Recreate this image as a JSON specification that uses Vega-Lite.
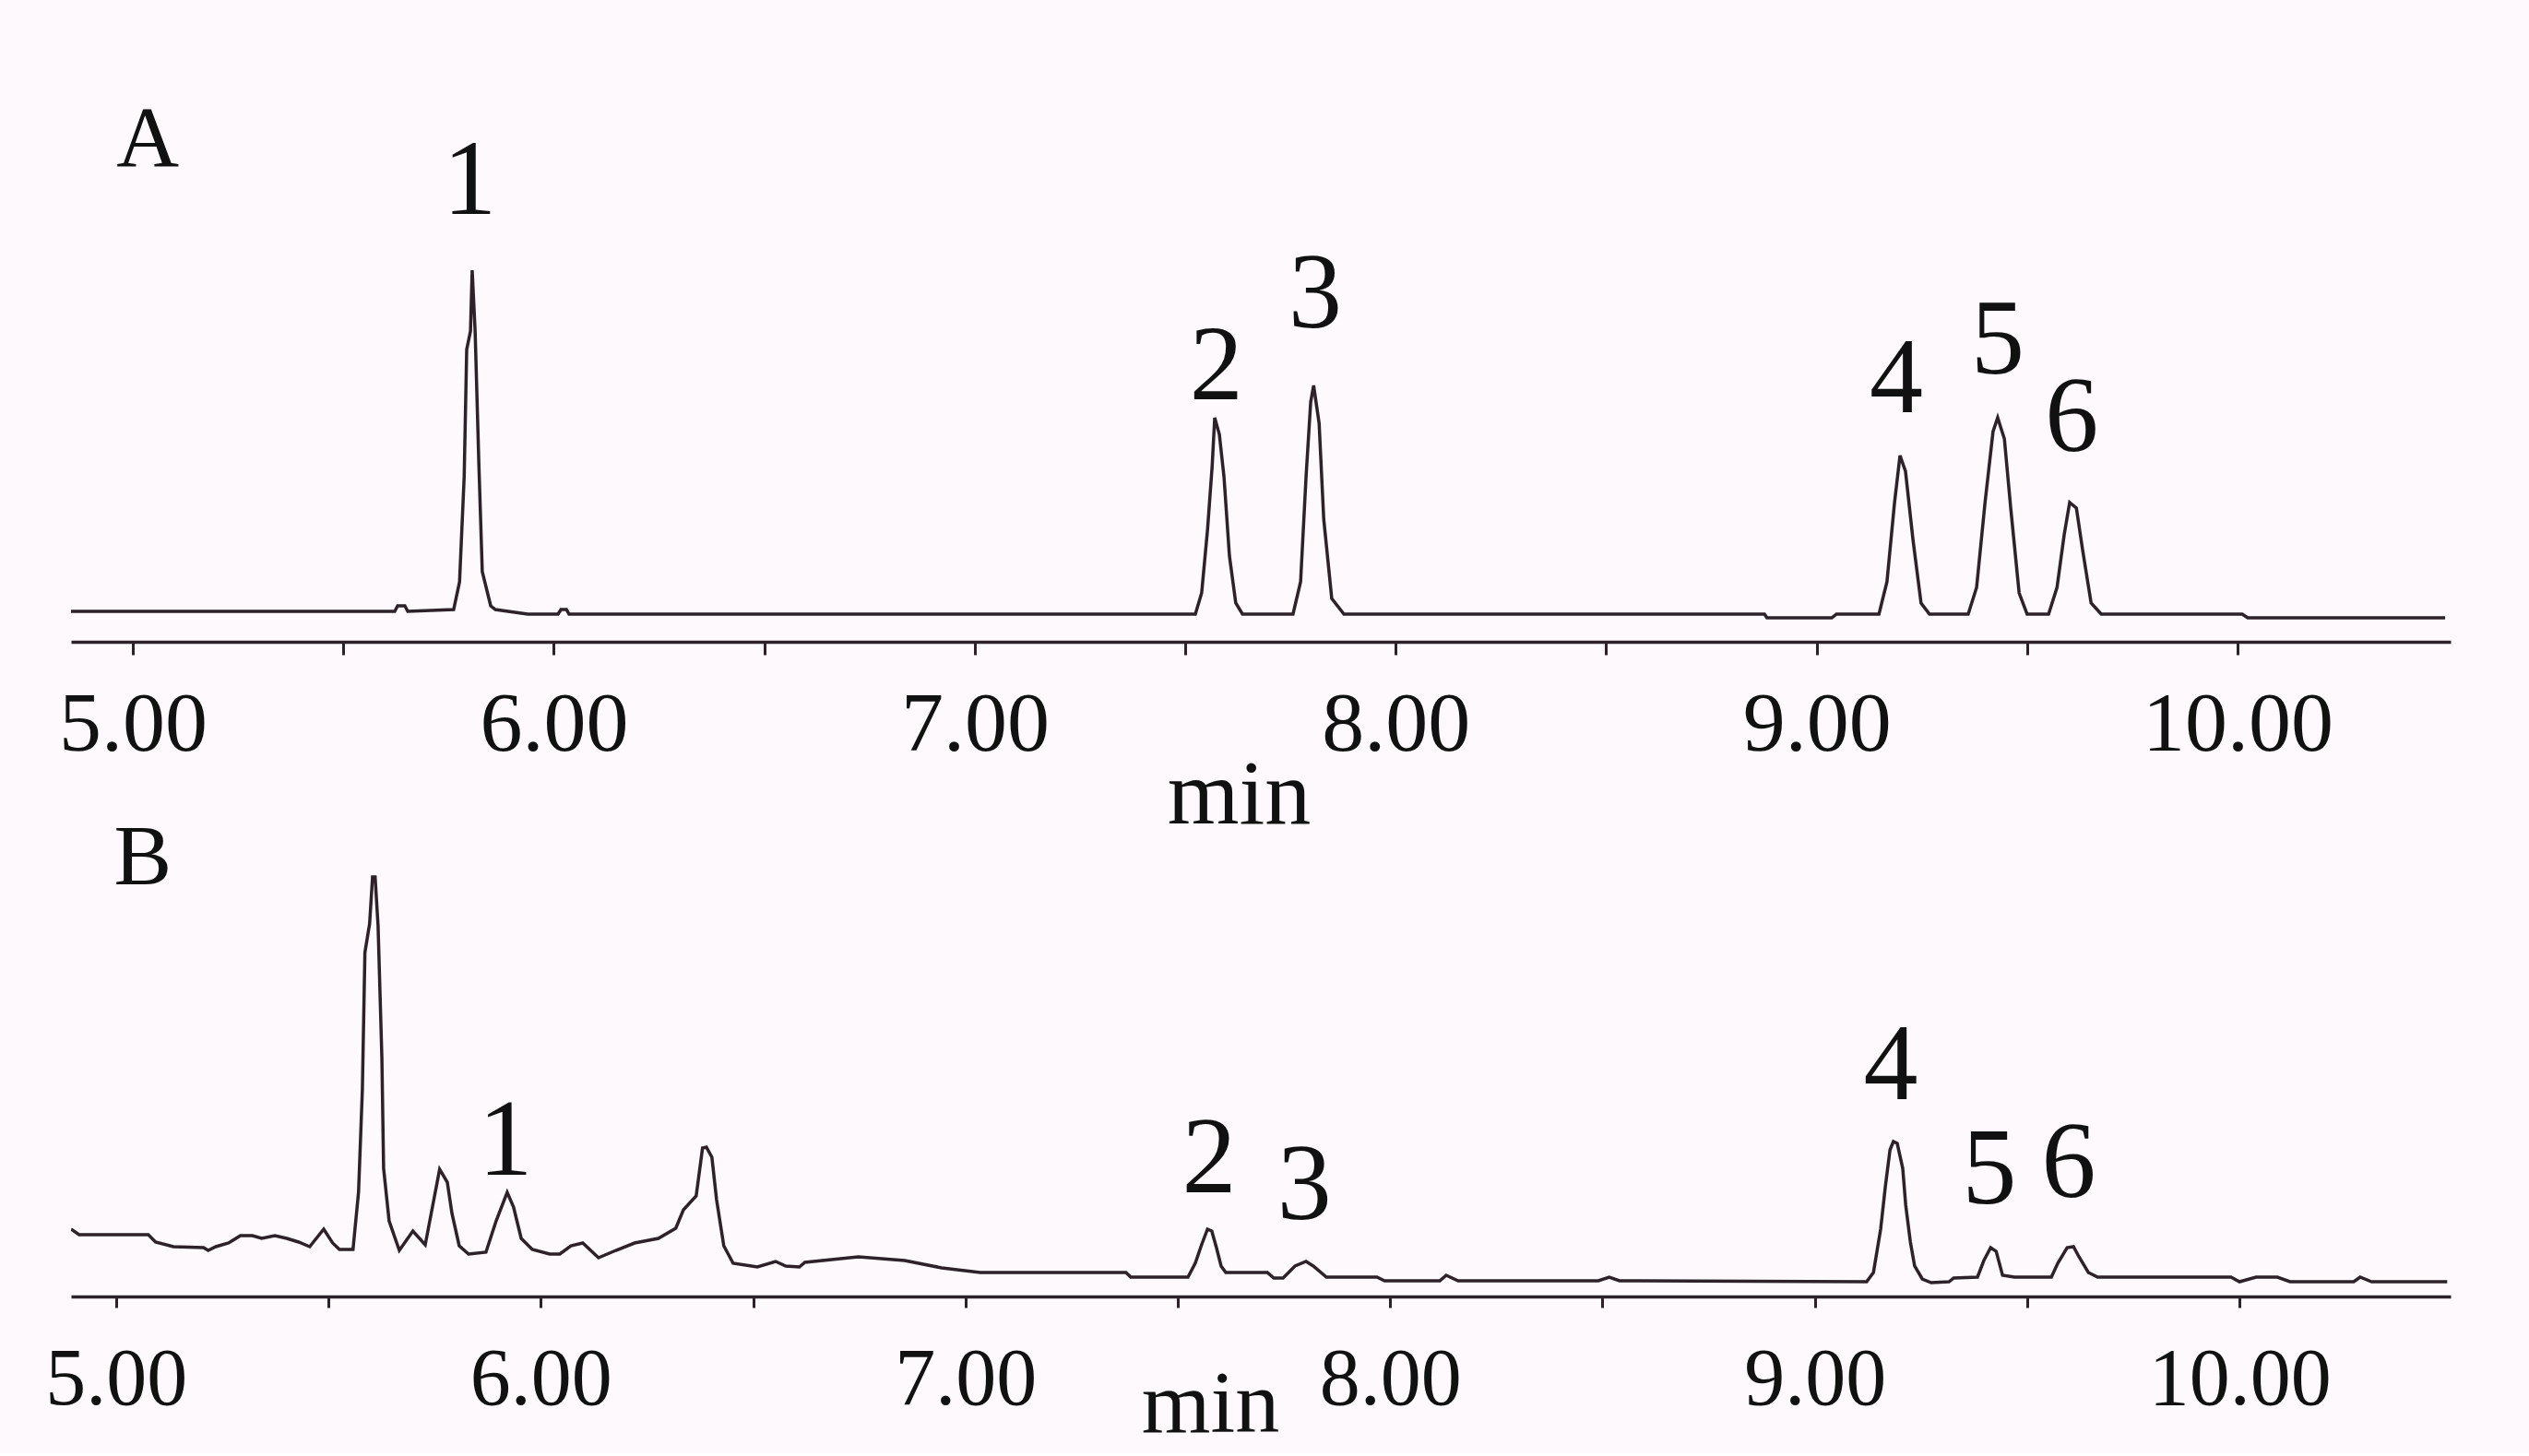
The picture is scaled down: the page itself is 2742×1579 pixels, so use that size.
{
  "$schema": "https://vega.github.io/schema/vega-lite/v6.json",
  "background": "#fdf9fc",
  "padding": {"left": 48, "top": 60, "right": 86, "bottom": 5},
  "bounds": "flush",
  "spacing": 164,
  "config": {"view": {"stroke": null}},
  "datasets": {
    "traceA": [
      {"t": 4.853, "v": 8.25}, {"t": 5.622, "v": 8.25}, {"t": 5.629, "v": 9.75}, {"t": 5.646, "v": 9.75}, {"t": 5.653, "v": 8.25},
      {"t": 5.762, "v": 8.75}, {"t": 5.776, "v": 16.25}, {"t": 5.787, "v": 44.75}, {"t": 5.793, "v": 79.25}, {"t": 5.802, "v": 84.25},
      {"t": 5.806, "v": 100.75}, {"t": 5.813, "v": 84.25}, {"t": 5.822, "v": 47.75}, {"t": 5.830, "v": 19}, {"t": 5.850, "v": 9.75},
      {"t": 5.861, "v": 8.75}, {"t": 5.938, "v": 7.5}, {"t": 6.010, "v": 7.5}, {"t": 6.017, "v": 8.75}, {"t": 6.030, "v": 8.75},
      {"t": 6.036, "v": 7.5}, {"t": 7.524, "v": 7.5}, {"t": 7.539, "v": 13.25}, {"t": 7.553, "v": 30.5}, {"t": 7.564, "v": 47.75},
      {"t": 7.570, "v": 60.75}, {"t": 7.581, "v": 56.25}, {"t": 7.592, "v": 44.75}, {"t": 7.605, "v": 23.25}, {"t": 7.620, "v": 10.5},
      {"t": 7.636, "v": 7.5}, {"t": 7.756, "v": 7.5}, {"t": 7.774, "v": 16.25}, {"t": 7.787, "v": 44.75}, {"t": 7.798, "v": 65},
      {"t": 7.805, "v": 69.5}, {"t": 7.818, "v": 59.25}, {"t": 7.829, "v": 33.25}, {"t": 7.848, "v": 11.75}, {"t": 7.877, "v": 7.5},
      {"t": 8.876, "v": 7.5}, {"t": 8.882, "v": 6.5}, {"t": 9.036, "v": 6.5}, {"t": 9.047, "v": 7.5}, {"t": 9.148, "v": 7.5},
      {"t": 9.167, "v": 16.25}, {"t": 9.185, "v": 37.75}, {"t": 9.198, "v": 50.5}, {"t": 9.211, "v": 46.25}, {"t": 9.229, "v": 27.5},
      {"t": 9.248, "v": 10.5}, {"t": 9.268, "v": 7.5}, {"t": 9.360, "v": 7.5}, {"t": 9.380, "v": 14.75}, {"t": 9.400, "v": 37.75},
      {"t": 9.419, "v": 57}, {"t": 9.430, "v": 60.75}, {"t": 9.446, "v": 55}, {"t": 9.461, "v": 36.25}, {"t": 9.481, "v": 13.25},
      {"t": 9.500, "v": 7.5}, {"t": 9.551, "v": 7.5}, {"t": 9.571, "v": 14.75}, {"t": 9.588, "v": 29}, {"t": 9.601, "v": 37.75},
      {"t": 9.617, "v": 36.25}, {"t": 9.632, "v": 24.75}, {"t": 9.652, "v": 10.5}, {"t": 9.676, "v": 7.5}, {"t": 10.011, "v": 7.5},
      {"t": 10.024, "v": 6.5}, {"t": 10.493, "v": 6.5}
    ],
    "traceB": [
      {"t": 4.894, "v": 18.25}, {"t": 4.913, "v": 16.75}, {"t": 5.076, "v": 16.75}, {"t": 5.093, "v": 14.75}, {"t": 5.135, "v": 13.5},
      {"t": 5.206, "v": 13.25}, {"t": 5.217, "v": 12.5}, {"t": 5.235, "v": 13.5}, {"t": 5.265, "v": 14.5}, {"t": 5.293, "v": 16.5},
      {"t": 5.321, "v": 16.5}, {"t": 5.343, "v": 15.75}, {"t": 5.374, "v": 16.5}, {"t": 5.402, "v": 15.75}, {"t": 5.430, "v": 14.75},
      {"t": 5.456, "v": 13.5}, {"t": 5.489, "v": 18.25}, {"t": 5.510, "v": 14.5}, {"t": 5.526, "v": 12.75}, {"t": 5.558, "v": 12.75},
      {"t": 5.571, "v": 28.25}, {"t": 5.580, "v": 56}, {"t": 5.586, "v": 93.25}, {"t": 5.597, "v": 101}, {"t": 5.604, "v": 113.75},
      {"t": 5.610, "v": 113.75}, {"t": 5.617, "v": 100.5}, {"t": 5.626, "v": 64.5}, {"t": 5.630, "v": 34.75}, {"t": 5.643, "v": 20.5},
      {"t": 5.667, "v": 12.5}, {"t": 5.699, "v": 17.75}, {"t": 5.728, "v": 14}, {"t": 5.745, "v": 24.25}, {"t": 5.762, "v": 34.5},
      {"t": 5.780, "v": 31}, {"t": 5.791, "v": 22.5}, {"t": 5.808, "v": 13.75}, {"t": 5.830, "v": 11.5}, {"t": 5.871, "v": 12},
      {"t": 5.895, "v": 20.5}, {"t": 5.921, "v": 28.25}, {"t": 5.936, "v": 24.25}, {"t": 5.954, "v": 15.75}, {"t": 5.980, "v": 12.75},
      {"t": 6.021, "v": 11.5}, {"t": 6.045, "v": 11.5}, {"t": 6.071, "v": 13.75}, {"t": 6.099, "v": 14.5}, {"t": 6.136, "v": 10.5},
      {"t": 6.177, "v": 12.5}, {"t": 6.221, "v": 14.5}, {"t": 6.277, "v": 15.75}, {"t": 6.318, "v": 18.5}, {"t": 6.336, "v": 23.5},
      {"t": 6.366, "v": 27.25}, {"t": 6.381, "v": 40.25}, {"t": 6.390, "v": 40.5}, {"t": 6.403, "v": 37.75}, {"t": 6.414, "v": 26.25},
      {"t": 6.431, "v": 13.75}, {"t": 6.453, "v": 9}, {"t": 6.510, "v": 8}, {"t": 6.553, "v": 9.5}, {"t": 6.577, "v": 8.25},
      {"t": 6.609, "v": 8}, {"t": 6.622, "v": 9.25}, {"t": 6.748, "v": 10.75}, {"t": 6.857, "v": 9.75}, {"t": 6.944, "v": 7.75},
      {"t": 7.035, "v": 6.5}, {"t": 7.378, "v": 6.5}, {"t": 7.389, "v": 5.25}, {"t": 7.524, "v": 5.25}, {"t": 7.541, "v": 9},
      {"t": 7.556, "v": 14}, {"t": 7.570, "v": 18.25}, {"t": 7.580, "v": 17.75}, {"t": 7.591, "v": 13.25}, {"t": 7.602, "v": 8.25},
      {"t": 7.613, "v": 6.5}, {"t": 7.711, "v": 6.5}, {"t": 7.726, "v": 5}, {"t": 7.748, "v": 5}, {"t": 7.776, "v": 8.25},
      {"t": 7.802, "v": 9.5}, {"t": 7.819, "v": 8.25}, {"t": 7.850, "v": 5.25}, {"t": 7.969, "v": 5.25}, {"t": 7.987, "v": 4.25},
      {"t": 8.117, "v": 4.25}, {"t": 8.132, "v": 5.75}, {"t": 8.160, "v": 4.25}, {"t": 8.490, "v": 4.25}, {"t": 8.516, "v": 5.25},
      {"t": 8.540, "v": 4.25}, {"t": 9.122, "v": 4}, {"t": 9.138, "v": 6.5}, {"t": 9.155, "v": 18.25}, {"t": 9.166, "v": 29.75},
      {"t": 9.177, "v": 39.75}, {"t": 9.185, "v": 42}, {"t": 9.194, "v": 41.5}, {"t": 9.207, "v": 34.75}, {"t": 9.214, "v": 24.75},
      {"t": 9.225, "v": 14.75}, {"t": 9.235, "v": 8.25}, {"t": 9.253, "v": 4.75}, {"t": 9.274, "v": 3.75}, {"t": 9.316, "v": 4},
      {"t": 9.327, "v": 5}, {"t": 9.383, "v": 5.25}, {"t": 9.398, "v": 9.75}, {"t": 9.414, "v": 13.25}, {"t": 9.427, "v": 12.25},
      {"t": 9.442, "v": 5.75}, {"t": 9.470, "v": 5.25}, {"t": 9.557, "v": 5.25}, {"t": 9.572, "v": 9}, {"t": 9.594, "v": 13.25},
      {"t": 9.609, "v": 13.5}, {"t": 9.622, "v": 10.75}, {"t": 9.644, "v": 6.5}, {"t": 9.666, "v": 5.25}, {"t": 9.980, "v": 5.25},
      {"t": 10.000, "v": 4}, {"t": 10.039, "v": 5.25}, {"t": 10.089, "v": 5.25}, {"t": 10.119, "v": 4}, {"t": 10.269, "v": 4},
      {"t": 10.284, "v": 5.25}, {"t": 10.311, "v": 4}, {"t": 10.489, "v": 4}
    ],
    "labelsA": [
      {"t": 5.035, "v": 136, "label": "A", "kind": "panel"},
      {"t": 5.800, "v": 124.75, "label": "1", "kind": "peak"},
      {"t": 7.574, "v": 74.5, "label": "2", "kind": "peak"},
      {"t": 7.809, "v": 94, "label": "3", "kind": "peak"},
      {"t": 9.189, "v": 71, "label": "4", "kind": "peak"},
      {"t": 9.430, "v": 81.5, "label": "5", "kind": "peak"},
      {"t": 9.606, "v": 60.5, "label": "6", "kind": "peak"}
    ],
    "labelsB": [
      {"t": 5.063, "v": 118.75, "label": "B", "kind": "panel"},
      {"t": 5.917, "v": 41.75, "label": "1", "kind": "peak"},
      {"t": 7.574, "v": 37, "label": "2", "kind": "peak"},
      {"t": 7.798, "v": 29.75, "label": "3", "kind": "peak"},
      {"t": 9.179, "v": 62.25, "label": "4", "kind": "peak"},
      {"t": 9.411, "v": 34, "label": "5", "kind": "peak"},
      {"t": 9.598, "v": 35.75, "label": "6", "kind": "peak"}
    ]
  },
  "vconcat": [
    {
      "width": 2580,
      "height": 636,
      "encoding": {
        "x": {
          "field": "t", "type": "quantitative",
          "scale": {"domain": [4.853, 10.506], "nice": false, "zero": false},
          "axis": {
            "title": "min",
            "values": [5, 5.5, 6, 6.5, 7, 7.5, 8, 8.5, 9, 9.5, 10],
            "labelExpr": "datum.value % 1 === 0 ? format(datum.value, '.2f') : ''",
            "grid": false, "labelFlush": false, "labelOverlap": false, "labelLimit": 0,
            "domainColor": "#2d2229", "domainWidth": 3.5,
            "tickColor": "#2d2229", "tickWidth": 3, "tickSize": 14,
            "labelFont": "Liberation Serif", "labelFontSize": 92, "labelColor": "#111111", "labelPadding": 30,
            "titleFont": "Liberation Serif", "titleFontSize": 100, "titleFontWeight": "normal", "titleColor": "#111111",
            "titleX": 1266, "titleY": 196, "titleBaseline": "alphabetic", "titleAlign": "center"
          }
        },
        "y": {
          "field": "v", "type": "quantitative",
          "scale": {"domain": [0, 159], "nice": false, "zero": false},
          "axis": null
        }
      },
      "layer": [
        {
          "data": {"name": "traceA"},
          "mark": {"type": "line", "color": "#2d2229", "strokeWidth": 3.5, "clip": true}
        },
        {
          "data": {"name": "labelsA"},
          "transform": [{"filter": "datum.kind === 'peak'"}],
          "mark": {"type": "text", "font": "Liberation Serif", "fontSize": 116, "color": "#111111", "align": "center", "baseline": "middle"},
          "encoding": {"text": {"field": "label", "type": "nominal"}}
        },
        {
          "data": {"name": "labelsA"},
          "transform": [{"filter": "datum.kind === 'panel'"}],
          "mark": {"type": "text", "font": "Liberation Serif", "fontSize": 94, "color": "#111111", "align": "center", "baseline": "middle"},
          "encoding": {"text": {"field": "label", "type": "nominal"}}
        }
      ]
    },
    {
      "width": 2580,
      "height": 546,
      "encoding": {
        "x": {
          "field": "t", "type": "quantitative",
          "scale": {"domain": [4.894, 10.497], "nice": false, "zero": false},
          "axis": {
            "title": "min",
            "values": [5, 5.5, 6, 6.5, 7, 7.5, 8, 8.5, 9, 9.5, 10],
            "labelExpr": "datum.value % 1 === 0 ? format(datum.value, '.2f') : ''",
            "grid": false, "labelFlush": false, "labelOverlap": false, "labelLimit": 0,
            "domainColor": "#2d2229", "domainWidth": 3.5,
            "tickColor": "#2d2229", "tickWidth": 3, "tickSize": 12,
            "labelFont": "Liberation Serif", "labelFontSize": 88, "labelColor": "#111111", "labelPadding": 34,
            "titleFont": "Liberation Serif", "titleFontSize": 96, "titleFontWeight": "normal", "titleColor": "#111111",
            "titleX": 1235, "titleY": 146, "titleBaseline": "alphabetic", "titleAlign": "center"
          }
        },
        "y": {
          "field": "v", "type": "quantitative",
          "scale": {"domain": [0, 136.5], "nice": false, "zero": false},
          "axis": null
        }
      },
      "layer": [
        {
          "data": {"name": "traceB"},
          "mark": {"type": "line", "color": "#2d2229", "strokeWidth": 3.5, "clip": true}
        },
        {
          "data": {"name": "labelsB"},
          "transform": [{"filter": "datum.kind === 'peak'"}],
          "mark": {"type": "text", "font": "Liberation Serif", "fontSize": 118, "color": "#111111", "align": "center", "baseline": "middle"},
          "encoding": {"text": {"field": "label", "type": "nominal"}}
        },
        {
          "data": {"name": "labelsB"},
          "transform": [{"filter": "datum.kind === 'panel'"}],
          "mark": {"type": "text", "font": "Liberation Serif", "fontSize": 94, "color": "#111111", "align": "center", "baseline": "middle"},
          "encoding": {"text": {"field": "label", "type": "nominal"}}
        }
      ]
    }
  ]
}
